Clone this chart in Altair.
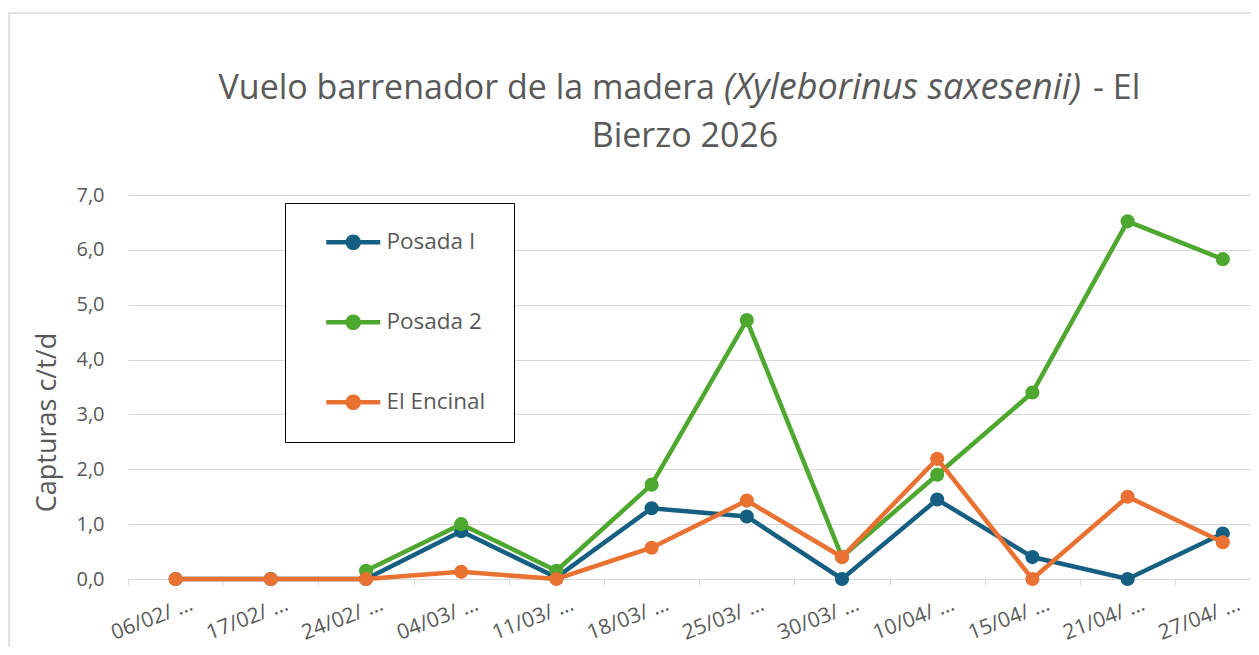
import altair as alt
import pandas as pd

FONT = "Open Sans"
TXT = "#595959"
GRID = "#d9d9d9"

fechas = ["06/02/2026", "17/02/2026", "24/02/2026", "04/03/2026", "11/03/2026", "18/03/2026",
          "25/03/2026", "30/03/2026", "10/04/2026", "15/04/2026", "21/04/2026", "27/04/2026"]
posada_1 = [0, 0, 0, 0.87, 0.03, 1.29, 1.14, 0, 1.45, 0.40, 0, 0.83]
posada_2 = [None, None, 0.15, 1.00, 0.15, 1.72, 4.72, 0.40, 1.90, 3.40, 6.52, 5.83]
el_encinal = [0, 0, 0, 0.13, 0, 0.57, 1.43, 0.40, 2.19, 0, 1.50, 0.67]

series = ["Posada I", "Posada 2", "El Encinal"]
colores = ["#156082", "#4EA72E", "#E97132"]
valores = [posada_1, posada_2, el_encinal]

rows = []
for name, vals in zip(series, valores):
    for f, v in zip(fechas, vals):
        if v is not None:
            rows.append({"fecha": f, "serie": name, "valor": v})
df = pd.DataFrame(rows)

LEG_PATH = ("M-2.7,-0.22 L2.7,-0.22 L2.7,0.22 L-2.7,0.22 Z "
            "M0.78,0 A0.78,0.78 0 1,1 -0.78,0 A0.78,0.78 0 1,1 0.78,0 Z")

x_enc = alt.X(
    "fecha:N", sort=fechas, title=None,
    scale=alt.Scale(type="band", domain=fechas, range=[0, 1142.4], paddingInner=0, paddingOuter=0),
    axis=alt.Axis(labelAngle=-21, labelAlign="right", labelBaseline="top", labelOffset=12,
                  labelPadding=8, tickBand="extent", ticks=True, tickSize=6, tickColor=GRID,
                  domainColor=GRID, domainWidth=1.2, grid=False, labelFont=FONT, labelFontSize=21,
                  labelColor=TXT, labelOverlap=False,
                  labelExpr="datum.label ? slice(datum.label, 0, 6) + ' …' : ''"),
)
y_enc = alt.Y(
    "valor:Q", title="Capturas c/t/d",
    scale=alt.Scale(domain=[0, 7], nice=False),
    axis=alt.Axis(values=[0, 1, 2, 3, 4, 5, 6, 7], domain=False, ticks=False,
                  gridColor=GRID, gridWidth=1.2, labelPadding=24, labelFont=FONT,
                  labelFontSize=20, labelColor=TXT,
                  labelExpr="replace(format(datum.value, '.1f'), '.', ',')",
                  titleFont=FONT, titleFontSize=27, titleFontWeight="normal", titleColor=TXT,
                  titleX=-81, titleY=227, titleAngle=270, titleAlign="center",
                  titleBaseline="middle"),
)

legend = alt.Legend(orient="none", legendX=157, legendY=8, padding=28, strokeColor="black",
                    fillColor="white", symbolType=LEG_PATH, symbolSize=400,
                    symbolStrokeWidth=0, symbolOffset=29, labelOffset=22, rowPadding=57,
                    labelFont=FONT, labelFontSize=22.5, labelColor=TXT, symbolOpacity=1)

color_scale = alt.Scale(domain=series, range=colores)

frame = alt.Chart(pd.DataFrame({"a": [0]})).mark_rect(fillOpacity=0, stroke=GRID, strokeWidth=1.5).encode(
    x=alt.value(-119), x2=alt.value(1140), y=alt.value(-182), y2=alt.value(520))

layers = [frame]
for name, col in zip(series, colores):
    b = alt.Chart(df).transform_filter(alt.datum.serie == name)
    layers.append(b.mark_line(strokeWidth=4.5, color=col).encode(x=x_enc, y=y_enc))
    layers.append(b.mark_circle(size=200, opacity=1).encode(
        x=x_enc, y=y_enc,
        color=alt.Color("serie:N", scale=color_scale, title=None, legend=legend)))

dummy = pd.DataFrame({"a": [0]})
t_a = alt.Chart(dummy).mark_text(text="Vuelo barrenador de la madera", font=FONT, fontSize=34,
                                 color=TXT, align="right", baseline="alphabetic").encode(
    x=alt.value(587), y=alt.value(-96))
t_b = alt.Chart(dummy).mark_text(text="(Xyleborinus saxesenii)", font=FONT, fontSize=36,
                                 fontStyle="italic", color=TXT, align="left",
                                 baseline="alphabetic").encode(x=alt.value(596), y=alt.value(-96))
t_c = alt.Chart(dummy).mark_text(text="- El", font=FONT, fontSize=34, color=TXT, align="left",
                                 baseline="alphabetic").encode(x=alt.value(965), y=alt.value(-96))
t_d = alt.Chart(dummy).mark_text(text="Bierzo 2026", font=FONT, fontSize=34, color=TXT,
                                 align="center", baseline="alphabetic").encode(
    x=alt.value(557), y=alt.value(-48))

chart = alt.layer(*layers, t_a, t_b, t_c, t_d).properties(
    width=1123, height=384,
    autosize=alt.AutoSizeParams(type="none"),
    padding={"left": 120, "top": 187, "right": 0, "bottom": 68},
    background="white",
).configure_view(strokeWidth=0)

chart.save("out.html", embed_options={"renderer": "svg", "actions": False})
